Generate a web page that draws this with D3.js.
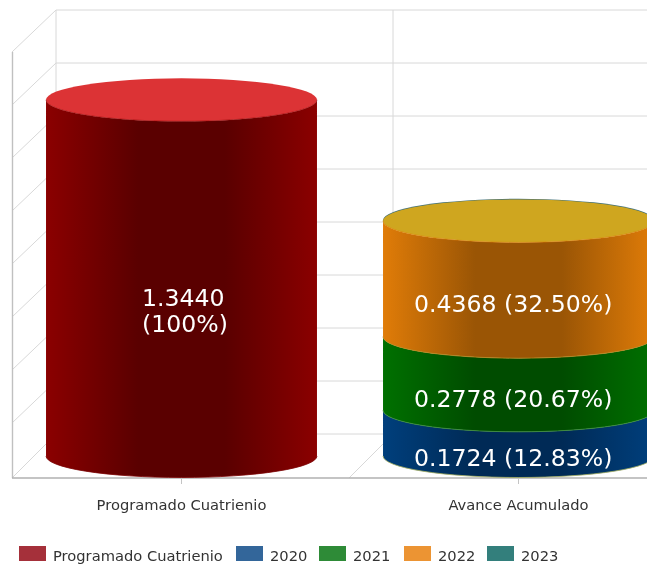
<!DOCTYPE html>
<html><head><meta charset="utf-8">
<script src="https://cdn.jsdelivr.net/npm/d3@7/dist/d3.min.js"></script>
<style>html,body{margin:0;padding:0;background:#fff;overflow:hidden}svg{display:block;filter:blur(0.4px)}text{font-family:"DejaVu Sans",Verdana,sans-serif}</style>
</head><body><svg id="c" width="647" height="565"></svg>
<script>
const categories = ["Programado Cuatrienio","Avance Acumulado"];
const seriesNames = ["Programado Cuatrienio","2020","2021","2022","2023"];
const programado = [1.3440, 0];
const s2020 = [0, 0.1724];
const s2021 = [0, 0.2778];
const s2022 = [0, 0.4368];
const s2023 = [0, 0];
const percents = {"Programado Cuatrienio":["(100%)"],"2020":["(12.83%)"],"2021":["(20.67%)"],"2022":["(32.50%)"]};
const yTicks = [0,0.2,0.4,0.6,0.8,1.0,1.2,1.4,1.6];
const legendColors = ["#a5303a","#33669a","#2e8b37","#ec9433","#337f7c"];
const sideEdge = ["#8b0000","#003f7c","#007000","#e07c08","#1c6a66"];
const sideMid = ["#5a0000","#002a56","#004c00","#9a5505","#124845"];
const topColors = ["#dc3335","#2a66a8","#2e8b37","#cfa61f","#cfa61f"];
const rimColors = ["#7a0000","#a8b060","#3f8f3f","#b98a20","#cfa61f"];
const values = [programado,s2020,s2021,s2022,s2023];

const svg = d3.select("#c");
const dx = 44, dy = 44, ry = 21.5, floorY = 434;
const y = d3.scaleLinear().domain([0,1.6]).range([floorY,10]);
const x = d3.scaleBand().domain(categories).range([13,687]).paddingInner(0.196).paddingOuter(0.098);
const wallX = 56, wallR = 660;
const grid = "#d8d8d8";

const defs = svg.append("defs");
seriesNames.forEach((n,i)=>{
  const g = defs.append("linearGradient").attr("id","g"+i);
  [[0,sideEdge[i]],[0.34,sideMid[i]],[0.66,sideMid[i]],[1,sideEdge[i]]].forEach(s=>
    g.append("stop").attr("offset",s[0]).attr("stop-color",s[1]));
});

const gl = svg.append("g");
yTicks.forEach(t=>{
  gl.append("line").attr("x1",wallX).attr("x2",wallR).attr("y1",y(t)).attr("y2",y(t)).attr("stroke",grid);
  gl.append("line").attr("x1",wallX).attr("x2",wallX-dx).attr("y1",y(t)).attr("y2",y(t)+dy-(t==0?0:2)).attr("stroke",grid);
});
const step = x.step();
[0,1].forEach(k=>{
  const vx = wallX + k*step;
  gl.append("line").attr("x1",vx).attr("x2",vx).attr("y1",y(1.6)).attr("y2",floorY).attr("stroke",grid);
  gl.append("line").attr("x1",vx).attr("x2",vx-dx).attr("y1",floorY).attr("y2",floorY+dy).attr("stroke",grid);
});
svg.append("line").attr("x1",12.5).attr("x2",12.5).attr("y1",y(1.6)+42).attr("y2",floorY+dy).attr("stroke","#c0c0c0").attr("stroke-width",1.4);
svg.append("line").attr("x1",12).attr("x2",647).attr("y1",floorY+dy).attr("y2",floorY+dy).attr("stroke","#b0b0b0").attr("stroke-width",1.4);
categories.forEach(c=>{
  const cx = x(c)+x.bandwidth()/2;
  svg.append("line").attr("x1",cx).attr("x2",cx).attr("y1",floorY+dy).attr("y2",floorY+dy+6).attr("stroke","#c4c4c4");
  svg.append("text").attr("x",cx).attr("y",510).attr("text-anchor","middle").attr("font-size",14.7).attr("fill","#333").text(c);
});

const off = dy/2;
categories.forEach((c,ci)=>{
  const x0 = x(c), w = x.bandwidth(), rx = w/2;
  let cum = 0, lastIdx = -1, labels = [];
  seriesNames.forEach((n,i)=>{
    const v = values[i][ci];
    if(!v) return;
    const yb = y(cum)+off, yt = y(cum+v)+off;
    svg.append("path")
      .attr("d",`M${x0},${yt}L${x0},${yb}A${rx},${ry} 0 0 0 ${x0+w},${yb}L${x0+w},${yt}A${rx},${ry} 0 0 1 ${x0},${yt}Z`)
      .attr("fill",`url(#g${i})`);
    svg.append("path").attr("fill","none").attr("stroke",rimColors[i]).attr("stroke-opacity",0.8).attr("stroke-width",1)
      .attr("d",`M${x0},${yb}A${rx},${ry} 0 0 0 ${x0+w},${yb}`);
    labels.push({n,v,x0,rx,yc:(yb+yt)/2+ry+3.5});
    cum += v; lastIdx = i;
  });
  const yt = y(cum)+off;
  if(ci===1) svg.append("ellipse").attr("cx",x0+rx).attr("cy",yt-0.7).attr("rx",rx).attr("ry",ry).attr("fill","#3f6f78");
  svg.append("ellipse").attr("cx",x0+rx).attr("cy",yt).attr("rx",rx).attr("ry",ry).attr("fill",topColors[lastIdx]);
  svg.append("path").attr("fill","none").attr("stroke",sideEdge[lastIdx]).attr("stroke-opacity",0.55)
    .attr("d",`M${x0},${yt}A${rx},${ry} 0 0 0 ${x0+w},${yt}`);
  labels.forEach(l=>{
    const val = l.v.toFixed(4), p = percents[l.n][0];
    const t = svg.append("text").attr("font-size",23.6).attr("fill","#fff");
    if(l.n==="Programado Cuatrienio"){
      const lx = l.x0 + 96;
      t.append("tspan").attr("x",lx).attr("y",l.yc+3.5).text(val);
      t.append("tspan").attr("x",lx).attr("y",l.yc+29.5).text(p);
    } else { t.attr("x",l.x0+31).attr("y",l.yc+8).text(val+" "+p); }
  });
});

const legX = [19,236,319,404,487];
seriesNames.forEach((n,i)=>{
  svg.append("rect").attr("x",legX[i]).attr("y",546).attr("width",27).attr("height",15).attr("fill",legendColors[i]);
  svg.append("text").attr("x",legX[i]+34).attr("y",561).attr("font-size",14.7).attr("fill","#333").text(n);
});
</script></body></html>
